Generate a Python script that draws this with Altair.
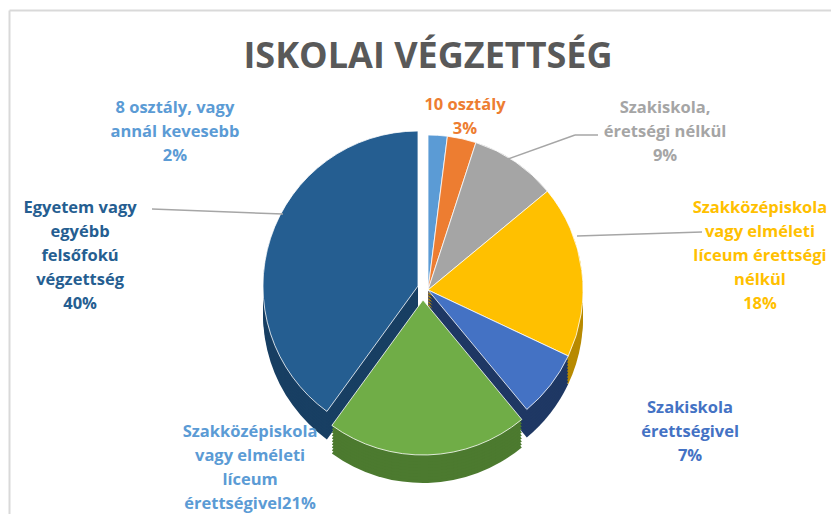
import altair as alt
import pandas as pd

# ---------------- data ----------------
categories = [
    "8 osztály, vagy annál kevesebb",
    "10 osztály",
    "Szakiskola, éretségi nélkül",
    "Szakközépiskola vagy elméleti líceum érettségi nélkül",
    "Szakiskola érettségivel",
    "Szakközépiskola vagy elméleti líceum érettségivel",
    "Egyetem vagy egyébb felsőfokú végzettség",
]
values = [2, 3, 9, 18, 7, 21, 40]
label_names = [
    "8 osztály, vagy\nannál kevesebb",
    "10 osztály",
    "Szakiskola,\néretségi nélkül",
    "Szakközépiskola\nvagy elméleti\nlíceum érettségi\nnélkül",
    "Szakiskola\nérettségivel",
    "Szakközépiskola\nvagy elméleti\nlíceum\nérettségivel",
    "Egyetem vagy\negyébb\nfelsőfokú\nvégzettség",
]
label_joiners = ["\n", "\n", "\n", "\n", "\n", "", "\n"]
title_text = "ISKOLAI VÉGZETTSÉG"

# ---------------- styles / layout ----------------
top_colors = ["#5B9BD5", "#ED7D31", "#A5A5A5", "#FFC000", "#4472C4", "#70AD47", "#255E91"]
side_colors = ["#3A6E9E", "#A9561F", "#767676", "#B88A00", "#1F3864", "#4C7A2F", "#183F63"]
label_colors = ["#5B9BD5", "#ED7D31", "#A5A5A5", "#FFC000", "#4472C4", "#5B9BD5", "#255E91"]
# polar position (degrees clockwise from top, pixels) of each label's first line
label_angle_deg = [305.7, 11.3, 52.5, 76.1, 114.2, 231.4, 283.3]
label_radius = [311.7, 188.7, 298.8, 342.0, 287.3, 227.7, 357.5]
explode = {5: (-5, 10), 6: (-10, -4)}
CX, CY = 420, 282
R = 155
DEPTH = 28
# leader line segments (view pixels): x, y, x2, y2
leaders = [
    (497, 152, 567, 127), (567, 127, 590, 127),
    (144, 201, 275, 206),
    (569, 228, 694, 224),
]

df = pd.DataFrame({
    "category": categories,
    "value": values,
    "order": list(range(len(values))),
    "label": [n + j + f"{v}%" for n, j, v in zip(label_names, label_joiners, values)],
    "lt": [a * 3.141592653589793 / 180 for a in label_angle_deg],
    "lr": label_radius,
})

base = (
    alt.Chart(df)
    .transform_window(end="sum(value)", sort=[alt.SortField("order")], frame=[None, 0])
    .transform_calculate(start="datum.end - datum.value")
)

normal = [c for i, c in enumerate(categories) if i not in explode]
groups = [(normal, (0, 0))] + [([categories[i]], off) for i, off in explode.items()]


def arc_layer(cats, dx, dy, colors, stroke=False):
    kw = dict(outerRadius=R, xOffset=dx, yOffset=dy)
    if stroke:
        kw.update(stroke="#ffffff", strokeWidth=0.8)
    return (
        base.transform_filter(alt.FieldOneOfPredicate(field="category", oneOf=cats))
        .mark_arc(**kw)
        .encode(
            theta=alt.Theta("start:Q", scale=alt.Scale(domain=[0, 100])),
            theta2="end:Q",
            color=alt.Color("category:N", scale=alt.Scale(domain=categories, range=colors), legend=None),
            x=alt.value(CX),
            y=alt.value(CY),
        )
    )


layers = []
for d in range(DEPTH, 0, -3):
    for cats, (ox, oy) in groups:
        layers.append(arc_layer(cats, ox, oy + d, side_colors))
for cats, (ox, oy) in groups:
    layers.append(arc_layer(cats, ox, oy, top_colors, stroke=True))

labels = alt.Chart(df).mark_text(
    font="Open Sans", fontWeight="bold", fontSize=16.5, lineBreak="\n", lineHeight=24,
    align="center", baseline="middle",
).encode(
    theta=alt.Theta("lt:Q", scale=None),
    radius=alt.Radius("lr:Q", scale=None),
    text="label:N",
    color=alt.Color("category:N", scale=alt.Scale(domain=categories, range=label_colors), legend=None),
    x=alt.value(CX),
    y=alt.value(CY),
)

one = pd.DataFrame({"t": [title_text]})
title = alt.Chart(one).mark_text(
    font="Open Sans", fontWeight="bold", fontSize=36, color="#595959", align="center", baseline="middle"
).encode(text="t:N", x=alt.value(CX), y=alt.value(49))

leader_layers = [
    alt.Chart(one).mark_rule(color="#A6A6A6", strokeWidth=1.5).encode(
        x=alt.value(a), y=alt.value(b), x2=alt.value(c), y2=alt.value(d)
    )
    for a, b, c, d in leaders
]

border_left = alt.Chart(one).mark_rule(color="#D9D9D9", strokeWidth=2).encode(
    x=alt.value(1.5), y=alt.value(2.5), y2=alt.value(520)
)
border_top = alt.Chart(one).mark_rule(color="#D9D9D9", strokeWidth=2).encode(
    x=alt.value(1.5), x2=alt.value(830), y=alt.value(2.5)
)

chart = (
    alt.layer(border_left, border_top, *layers, *leader_layers, labels, title)
    .resolve_scale(color="independent", theta="independent", radius="independent")
    .properties(
        width=823, height=506, padding=0,
        autosize=alt.AutoSizeParams(type="fit", contains="padding"),
        background="#ffffff",
    )
    .configure_view(strokeWidth=0)
)

chart.save("out.html", embed_options={"renderer": "svg", "actions": False})
